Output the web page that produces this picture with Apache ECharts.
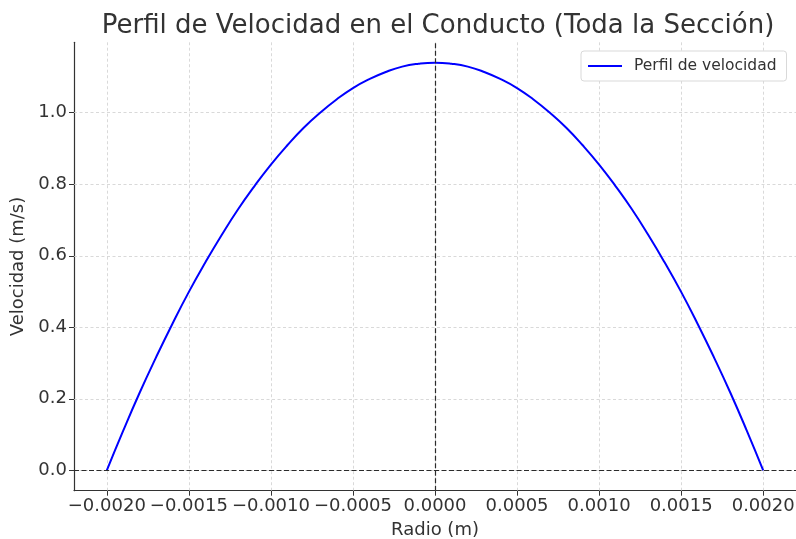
<!DOCTYPE html>
<html><head><meta charset="utf-8">
<script src="https://cdn.jsdelivr.net/npm/echarts@6/dist/echarts.min.js"></script>
<style>html,body{margin:0;padding:0;background:#fff}#c{width:796px;height:539px}</style>
</head><body><div id="c"></div>
<script>
// Radius (m)
const radio = [-0.0020,-0.0019,-0.0018,-0.0017,-0.0016,-0.0015,-0.0014,-0.0013,-0.0012,-0.0011,-0.0010,-0.0009,-0.0008,-0.0007,-0.0006,-0.0005,-0.0004,-0.0003,-0.0002,-0.0001,0.0000,0.0001,0.0002,0.0003,0.0004,0.0005,0.0006,0.0007,0.0008,0.0009,0.0010,0.0011,0.0012,0.0013,0.0014,0.0015,0.0016,0.0017,0.0018,0.0019,0.0020];
// Velocity (m/s)
const velocidad = [0.000,0.111,0.217,0.316,0.410,0.499,0.581,0.658,0.730,0.795,0.855,0.909,0.958,1.000,1.037,1.069,1.094,1.114,1.129,1.137,1.140,1.137,1.129,1.114,1.094,1.069,1.037,1.000,0.958,0.909,0.855,0.795,0.730,0.658,0.581,0.499,0.410,0.316,0.217,0.111,0.000];
const xTicks = [-0.0020,-0.0015,-0.0010,-0.0005,0.0000,0.0005,0.0010,0.0015,0.0020];
const yTicks = [0.0,0.2,0.4,0.6,0.8,1.0];
const xRange = [-0.0022, 0.0022];
const yRange = [-0.057, 1.197];

const FONT = 'DejaVu Sans';
const chart = echarts.init(document.getElementById('c'), null, {renderer:'canvas'});
const gridLine = {color:'#cfcfcf', width:0.8, type:[3,2.5]};
const refLine = {color:'#2b2b2b', width:1.2, type:[5,2.5]};
chart.setOption({
  animation:false,
  backgroundColor:'#fff',
  title:{
    text:'Perfil de Velocidad en el Conducto (Toda la Sección)',
    left:433, top:8, textAlign:'center',
    textStyle:{fontFamily:FONT, fontSize:26, fontWeight:'normal', color:'#333'}
  },
  legend:{
    data:['Perfil de velocidad'],
    left:581, top:51,
    padding:[7,10,7,6],
    itemWidth:34, itemHeight:14,
    backgroundColor:'#fff',
    borderColor:'#d9d9d9', borderWidth:1, borderRadius:3,
    itemStyle:{opacity:0},
    lineStyle:{width:2},
    textStyle:{fontFamily:FONT, fontSize:15.5, color:'#333', padding:[0,0,0,7]}
  },
  grid:{left:74, right:0, top:42.3, bottom:48.3, containLabel:false, outerBoundsMode:'none'},
  xAxis:{
    type:'value', min:xRange[0], max:xRange[1],
    name:'Radio (m)', nameLocation:'middle', nameGap:31,
    nameTextStyle:{fontFamily:FONT, fontSize:18, color:'#333'},
    axisLine:{show:true, onZero:false, lineStyle:{color:'#333', width:1.2}},
    axisTick:{show:true, length:5, lineStyle:{color:'#333', width:1}, customValues:xTicks},
    axisLabel:{fontFamily:FONT, fontSize:18, color:'#333', margin:7, customValues:xTicks,
      formatter:v => (v < -1e-12 ? '\u2212' : '') + Math.abs(v).toFixed(4)},
    splitLine:{show:false}
  },
  yAxis:{
    type:'value', min:yRange[0], max:yRange[1],
    name:'Velocidad (m/s)', nameLocation:'middle', nameGap:45, nameRotate:90,
    nameTextStyle:{fontFamily:FONT, fontSize:18, color:'#333'},
    axisLine:{show:true, onZero:false, lineStyle:{color:'#333', width:1.2}},
    axisTick:{show:true, length:5, lineStyle:{color:'#333', width:1}, customValues:yTicks},
    axisLabel:{fontFamily:FONT, fontSize:18, color:'#333', margin:7, customValues:yTicks,
      formatter:v => v.toFixed(1)},
    splitLine:{show:false}
  },
  series:[
    {
      type:'line', name:'grid', data:[], silent:true, z:1,
      markLine:{
        silent:true, symbol:['none','none'], label:{show:false}, animation:false, precision:8, z:1,
        lineStyle:gridLine,
        data: xTicks.map(v=>({xAxis:v})).concat(yTicks.map(v=>({yAxis:v})))
      }
    },
    {
      type:'line', name:'Perfil de velocidad',
      data: radio.map((r,i)=>[r, velocidad[i]]),
      symbol:'none', smooth:true, z:3,
      lineStyle:{color:'#0000ff', width:2}, itemStyle:{color:'#0000ff'}
    },
    {
      type:'line', name:'ref', data:[], silent:true, z:4,
      markLine:{
        silent:true, symbol:['none','none'], label:{show:false}, animation:false, precision:8, z:4,
        lineStyle:refLine,
        data:[{xAxis:0},{yAxis:0}]
      }
    }
  ]
});
</script></body></html>
